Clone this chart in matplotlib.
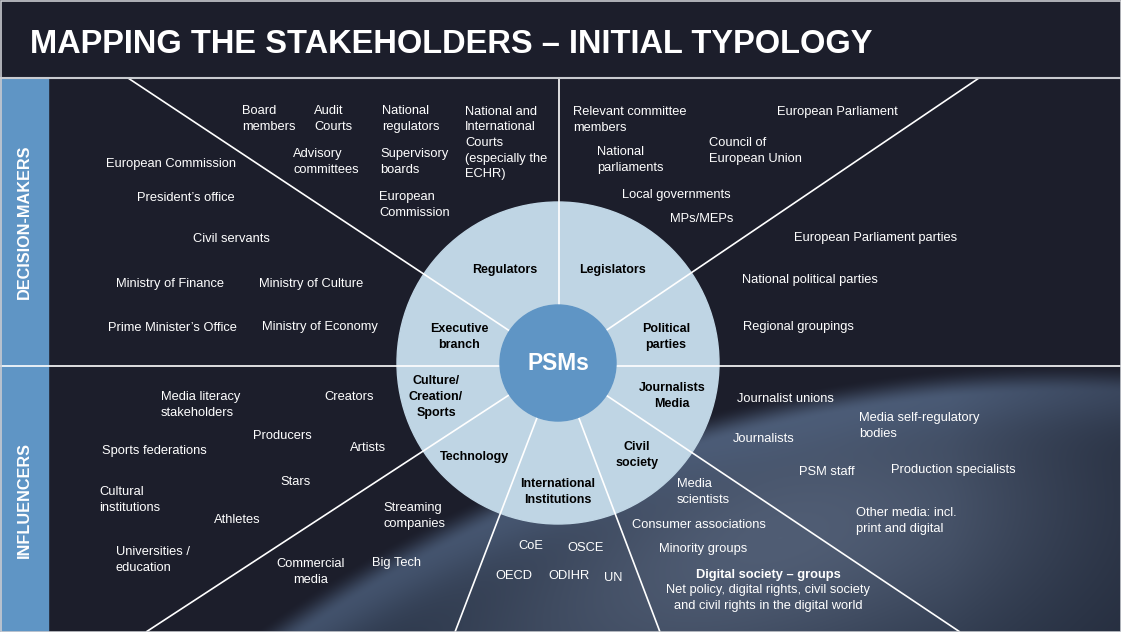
"""Stakeholder map for PSMs: decision-makers vs influencers around a ring diagram."""
import numpy as np
import matplotlib
matplotlib.use("Agg")
import matplotlib.pyplot as plt
from matplotlib.patches import Circle, Rectangle

plt.rcParams["font.family"] = ["Liberation Sans", "DejaVu Sans"]

W, H = 1121, 632

TITLE = "MAPPING THE STAKEHOLDERS \u2013 INITIAL TYPOLOGY"
SIDE_LABELS = ["DECISION-MAKERS", "INFLUENCERS"]
CORE = "PSMs"

# ring segments (bold, inside the light circle)
SEGMENTS = ["Regulators", "Legislators", "Executive\nbranch", "Political\nparties",
            "Culture/\nCreation/\nSports", "Journalists\nMedia", "Technology",
            "Civil\nsociety", "International\nInstitutions"]
SEGMENT_XY = [(505, 270), (612, 270), (459, 337), (666, 337), (436, 397),
              (672, 396), (474, 457), (637, 455), (558, 492)]

# stakeholders per segment
EXECUTIVE = ["European Commission", "President\u2019s office", "Civil servants",
             "Ministry of Finance", "Ministry of Culture",
             "Prime Minister\u2019s Office", "Ministry of Economy"]
EXECUTIVE_XY = [(106, 164), (137, 198), (193, 239), (116, 284), (259, 284),
                (108, 328), (262, 327)]

REGULATORS = ["Board\nmembers", "Audit\nCourts", "National\nregulators",
              "National and\nInternational\nCourts\n(especially the\nECHR)",
              "Advisory\ncommittees", "Supervisory\nboards", "European\nCommission"]
REGULATORS_XY = [(242, 119), (314, 119), (382, 119), (465, 143), (293, 162),
                 (380, 162), (379, 205)]

LEGISLATORS = ["Relevant committee\nmembers", "National\nparliaments",
               "Local governments", "MPs/MEPs", "Council of\nEuropean Union",
               "European Parliament"]
LEGISLATORS_XY = [(573, 120), (597, 160), (622, 195), (670, 219), (709, 151),
                  (777, 112)]

PARTIES = ["European Parliament parties", "National political parties",
           "Regional groupings"]
PARTIES_XY = [(794, 238), (742, 280), (743, 327)]

CULTURE = ["Media literacy\nstakeholders", "Creators", "Producers",
           "Sports federations", "Artists", "Stars", "Cultural\ninstitutions",
           "Athletes", "Universities /\neducation"]
CULTURE_XY = [(161, 405), (324, 397), (253, 436), (102, 451), (350, 448),
              (280, 482), (99, 500), (214, 520), (116, 560)]

TECH = ["Streaming\ncompanies", "Big Tech"]
TECH_XY = [(383, 516), (372, 563)]
TECH_CENTERED = ["Commercial\nmedia"]
TECH_CENTERED_XY = [(311, 572)]

INTL = ["CoE", "OSCE", "OECD", "ODIHR", "UN"]
INTL_XY = [(518, 546), (567, 548), (495, 576), (548, 576), (604, 578)]

CIVIL = ["Media\nscientists", "Consumer associations", "Minority groups"]
CIVIL_XY = [(677, 492), (632, 525), (659, 549)]
DIGITAL_HEAD = "Digital society \u2013 groups"
DIGITAL_BODY = "Net policy, digital rights, civil society\nand civil rights in the digital world"

JOURNALISTS = ["Journalist unions", "Journalists", "Media self-regulatory\nbodies",
               "PSM staff", "Production specialists",
               "Other media: incl.\nprint and digital"]
JOURNALISTS_XY = [(737, 399), (733, 439), (859, 426), (799, 472), (891, 470),
                  (856, 521)]

# geometry of the ring
CX, CY = 558, 363
R_OUT, R_IN = 161, 58
TOP_Y, MID_Y = 78, 366
SPOKE_ENDS = [(128, TOP_Y), (979, TOP_Y), (146, H), (455, H), (660, H), (960, H)]

BG = np.array([28, 30, 43]) / 255
RING = "#bfd5e4"
CORE_COL = "#5f95c5"
SIDE_COL = "#5f95c5"


def background() -> np.ndarray:
    yy, xx = np.mgrid[0:H, 0:W].astype(float)
    # earth seen from orbit: limb is a huge circle off the bottom right
    d = 1397 - np.hypot(xx - 1077, yy - 1759)
    inside = np.clip(d / 30, 0, 1)
    inside = inside * inside * (3 - 2 * inside)
    haze = np.exp(-((d - 25) / 40) ** 2)
    clouds = np.exp(-((d - 140) / 150) ** 2)
    clouds *= np.exp(-((xx - 780) / 330) ** 2)
    deep = np.array([36, 46, 64]) / 255
    cloud_col = np.array([80, 93, 116]) / 255
    haze_col = np.array([88, 108, 140]) / 255
    earth = deep[None, None, :] * (1 - clouds[..., None]) + cloud_col * clouds[..., None]
    earth = earth * (1 - 0.55 * haze[..., None]) + haze_col * 0.55 * haze[..., None]
    right_dark = np.clip((xx - 950) / 300, 0, 1)[..., None] * 0.45
    earth = earth * (1 - right_dark) + BG * right_dark
    img = BG[None, None, :] * (1 - inside[..., None]) + earth * inside[..., None]
    return np.clip(img, 0, 1)


def put(ax, items, xy, **kw):
    for txt, (x, y) in zip(items, xy):
        ax.text(x, y, txt, **kw)


def main() -> None:
    fig = plt.figure(figsize=(W / 100, H / 100), dpi=100)
    ax = fig.add_axes([0, 0, 1, 1])
    ax.set_xlim(0, W)
    ax.set_ylim(H, 0)
    ax.axis("off")

    ax.imshow(background(), extent=(0, W, H, 0), zorder=0, interpolation="bilinear")
    ax.add_patch(Rectangle((0, 0), W, TOP_Y, color=BG, zorder=1))
    ax.plot([0, W], [TOP_Y, TOP_Y], color="#c9cbd0", lw=1.5, zorder=6)
    ax.add_patch(Rectangle((0.5, 0.5), W - 1, H - 1, fill=False, ec="#c9cbd0", lw=1.2, zorder=7))

    ax.text(30, 53, TITLE, color="white", fontsize=23.5, fontweight="bold", va="baseline", zorder=8)

    # side band
    ax.add_patch(Rectangle((0, TOP_Y), 48, H - TOP_Y, color=SIDE_COL, zorder=2))
    ax.text(24, 222, SIDE_LABELS[0], rotation=90, color="white", fontsize=11.7,
            fontweight="bold", ha="center", va="center", zorder=8)
    ax.text(24, 500, SIDE_LABELS[1], rotation=90, color="white", fontsize=11.7,
            fontweight="bold", ha="center", va="center", zorder=8)

    # ring + spokes
    ax.add_patch(Circle((CX, CY), R_OUT, color=RING, zorder=3))
    line = dict(color="white", lw=1.2, zorder=4, solid_capstyle="butt")
    ax.plot([0, W], [MID_Y, MID_Y], **line)
    ax.plot([CX + 1, CX + 1], [TOP_Y, CY], **line)
    for ex, ey in SPOKE_ENDS:
        ax.plot([ex, CX], [ey, CY], **line)
    ax.add_patch(Circle((CX, CY), R_IN, color=CORE_COL, zorder=5))
    ax.text(CX, CY, CORE, color="white", fontsize=16.4, fontweight="bold",
            ha="center", va="center", zorder=8)

    put(ax, SEGMENTS, SEGMENT_XY, color="black", fontsize=9, fontweight="bold",
        ha="center", va="center", multialignment="center", linespacing=1.4, zorder=8)

    label = dict(color="white", fontsize=9.3, ha="left", va="center",
                 linespacing=1.4, zorder=8)
    for items, xy in [(EXECUTIVE, EXECUTIVE_XY), (REGULATORS, REGULATORS_XY),
                      (LEGISLATORS, LEGISLATORS_XY), (PARTIES, PARTIES_XY),
                      (CULTURE, CULTURE_XY), (TECH, TECH_XY), (INTL, INTL_XY),
                      (CIVIL, CIVIL_XY), (JOURNALISTS, JOURNALISTS_XY)]:
        put(ax, items, xy, **label)
    put(ax, TECH_CENTERED, TECH_CENTERED_XY, **{**label, "ha": "center",
                                                "multialignment": "center"})
    ax.text(768, 575, DIGITAL_HEAD, color="white", fontsize=9.3, fontweight="bold",
            ha="center", va="center", zorder=8)
    ax.text(768, 598, DIGITAL_BODY, color="white", fontsize=9.3, ha="center",
            va="center", multialignment="center", linespacing=1.4, zorder=8)

    fig.savefig("out.png", dpi=100, facecolor=BG)
    plt.close(fig)


if __name__ == "__main__":
    main()
